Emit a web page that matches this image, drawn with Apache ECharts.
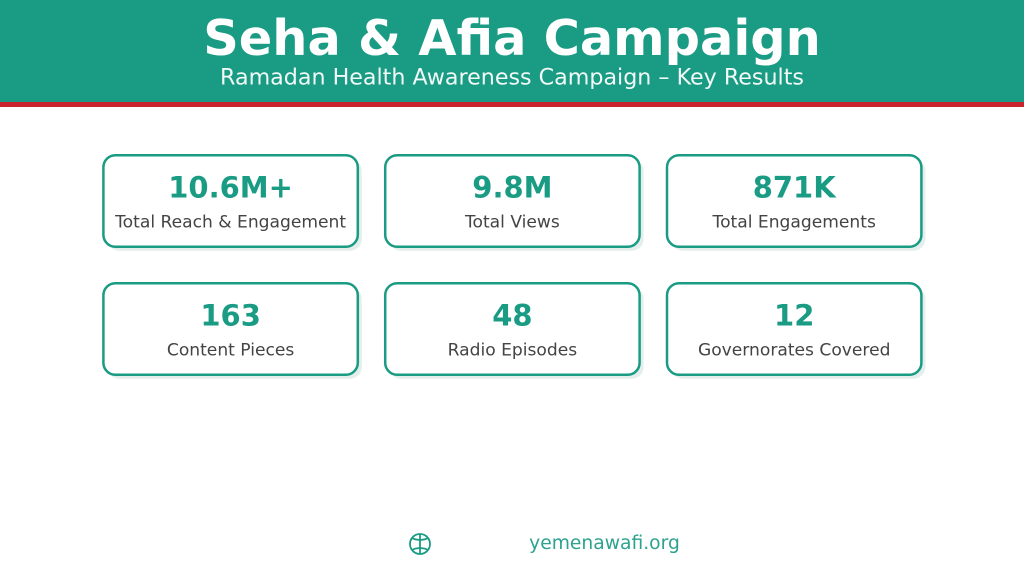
<!DOCTYPE html>
<html>
<head>
<meta charset="utf-8">
<style>
html, body { margin: 0; padding: 0; background: #fff; }
#main { width: 1024px; height: 576px; }
</style>
<script src="https://cdn.jsdelivr.net/npm/echarts@6/dist/echarts.min.js"></script>
</head>
<body>
<div id="main"></div>
<script>
var titleText = 'Seha & Afia Campaign';
var subtitleText = 'Ramadan Health Awareness Campaign – Key Results';
var kpiValues = ['10.6M+', '9.8M', '871K', '163', '48', '12'];
var kpiLabels = ['Total Reach & Engagement', 'Total Views', 'Total Engagements', 'Content Pieces', 'Radio Episodes', 'Governorates Covered'];
var siteText = 'yemenawafi.org';

var FONT = '"DejaVu Sans", sans-serif';
var TEAL = '#1A9B84';
var RED = '#C8232F';

var cardX = [103.4, 385.2, 667];
var cardY = [155.2, 283.2];
var cardW = 254.4, cardH = 91.6;

// 放大两倍绘制，文字边缘更柔和
var myChart = echarts.init(document.getElementById('main'), null, { renderer: 'canvas', devicePixelRatio: 2 });

var elements = [
	{ type: 'rect', shape: { x: 0, y: 0, width: 1024, height: 102 }, style: { fill: TEAL } },
	{ type: 'rect', shape: { x: 0, y: 102, width: 1024, height: 5 }, style: { fill: RED } },
	{ type: 'text', x: 512, y: 42, style: { text: titleText, fill: '#fff', font: 'bold 49.4px ' + FONT, textAlign: 'center', textVerticalAlign: 'middle' } },
	{ type: 'text', x: 512, y: 78.5, style: { text: subtitleText, fill: '#F2FAF8', font: '22.2px ' + FONT, textAlign: 'center', textVerticalAlign: 'middle' } }
];

// 指标卡片
kpiValues.forEach(function (val, i) {
	var x = cardX[i % 3], y = cardY[Math.floor(i / 3)];
	var midX = x + cardW / 2;
	elements.push({ type: 'rect', shape: { x: x + 4, y: y + 4, width: cardW, height: cardH, r: 12 }, style: { fill: '#E4EEEC' } });
	elements.push({ type: 'rect', shape: { x: x, y: y, width: cardW, height: cardH, r: 12 }, style: { fill: '#fff', stroke: TEAL, lineWidth: 2.5 } });
	elements.push({ type: 'text', x: midX, y: y + 35, style: { text: val, fill: TEAL, font: 'bold 29px ' + FONT, textAlign: 'center', textVerticalAlign: 'middle' } });
	elements.push({ type: 'text', x: midX, y: y + 68, style: { text: kpiLabels[i], fill: '#444444', font: '17.1px ' + FONT, textAlign: 'center', textVerticalAlign: 'middle' } });
});

// 底部图标和网址
var iconStyle = { fill: 'none', stroke: TEAL, lineWidth: 1.8 };
elements.push({ type: 'circle', shape: { cx: 420, cy: 544, r: 10 }, style: iconStyle });
elements.push({ type: 'line', shape: { x1: 420, y1: 534, x2: 420, y2: 554 }, style: iconStyle });
elements.push({ type: 'bezierCurve', shape: { x1: 412, y1: 538, cpx1: 416, cpy1: 540.5, x2: 428, y2: 538, cpx2: 424, cpy2: 540.5 }, style: iconStyle });
elements.push({ type: 'bezierCurve', shape: { x1: 412, y1: 550, cpx1: 416, cpy1: 547.5, x2: 428, y2: 550, cpx2: 424, cpy2: 547.5 }, style: iconStyle });
elements.push({ type: 'text', x: 604.5, y: 544, style: { text: siteText, fill: TEAL, font: '18.7px ' + FONT, textAlign: 'center', textVerticalAlign: 'middle', opacity: 0.92 } });

myChart.setOption({
	animation: false,
	backgroundColor: '#fff',
	graphic: { elements: elements }
});
</script>
</body>
</html>
